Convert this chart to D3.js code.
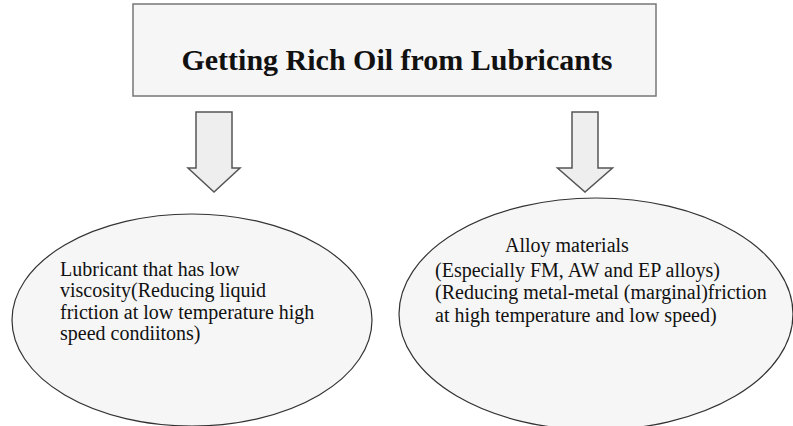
<!DOCTYPE html>
<html>
<head>
<meta charset="utf-8">
<script src="https://cdn.jsdelivr.net/npm/d3@7"></script>
<style>
  body { margin: 0; background: #fff; }
  svg { display: block; }
</style>
</head>
<body>
<svg class="chart" width="793" height="426"></svg>
<script>
const title = "Getting Rich Oil from Lubricants",
      leftLines = ["Lubricant that has low", "viscosity(Reducing liquid", "friction at low temperature high", "speed condiitons)"],
      rightLines = ["Alloy materials", "(Especially FM, AW and EP alloys)", "(Reducing metal-metal (marginal)friction", "at high temperature and low speed)"]

const serif = "'Liberation Serif', 'Times New Roman', serif"

var svg = d3.select(".chart")

// title box
svg.append("rect")
  .attr("x", 133).attr("y", 4)
  .attr("width", 523).attr("height", 92)
  .attr("fill", "#f6f6f6")
  .attr("stroke", "#777")
  .attr("stroke-width", 1.5)

svg.append("text")
  .attr("x", 397).attr("y", 70)
  .attr("text-anchor", "middle")
  .attr("font-family", serif)
  .attr("font-size", 30)
  .attr("font-weight", "bold")
  .attr("fill", "#111")
  .text(title)

// block arrows
var arrow = function(cx, shaftW, headW) {
  var top = 112, neck = 168, tip = 192
  return d3.line()([
    [cx - shaftW / 2, top], [cx + shaftW / 2, top], [cx + shaftW / 2, neck],
    [cx + headW / 2, neck], [cx, tip], [cx - headW / 2, neck],
    [cx - shaftW / 2, neck]
  ]) + "Z"
}

svg.append("path")
  .attr("d", arrow(214, 36, 52))
  .attr("fill", "#eeeeee").attr("stroke", "#555").attr("stroke-width", 1.5)

svg.append("path")
  .attr("d", arrow(585, 26, 55))
  .attr("fill", "#eeeeee").attr("stroke", "#555").attr("stroke-width", 1.5)

// ellipses
svg.append("ellipse")
  .attr("cx", 192).attr("cy", 320).attr("rx", 180).attr("ry", 106)
  .attr("fill", "#f6f6f6").attr("stroke", "#333").attr("stroke-width", 1.2)

svg.append("ellipse")
  .attr("cx", 596).attr("cy", 314).attr("rx", 197).attr("ry", 116)
  .attr("fill", "#f6f6f6").attr("stroke", "#333").attr("stroke-width", 1.2)

svg.append("g")
  .selectAll("text")
  .data(leftLines)
  .join("text")
    .attr("x", 60)
    .attr("y", function(d, i) { return 275.5 + i * 21.5 })
    .attr("font-family", serif)
    .attr("font-size", 20)
    .attr("fill", "#111")
    .text(function(d) { return d })

svg.append("g")
  .selectAll("text")
  .data(rightLines)
  .join("text")
    .attr("x", function(d, i) { return i == 0 ? 505 : 435 })
    .attr("y", function(d, i) { return [252, 277, 299, 322][i] })
    .attr("font-family", serif)
    .attr("font-size", 20)
    .attr("fill", "#111")
    .text(function(d) { return d })
</script>
</body>
</html>
